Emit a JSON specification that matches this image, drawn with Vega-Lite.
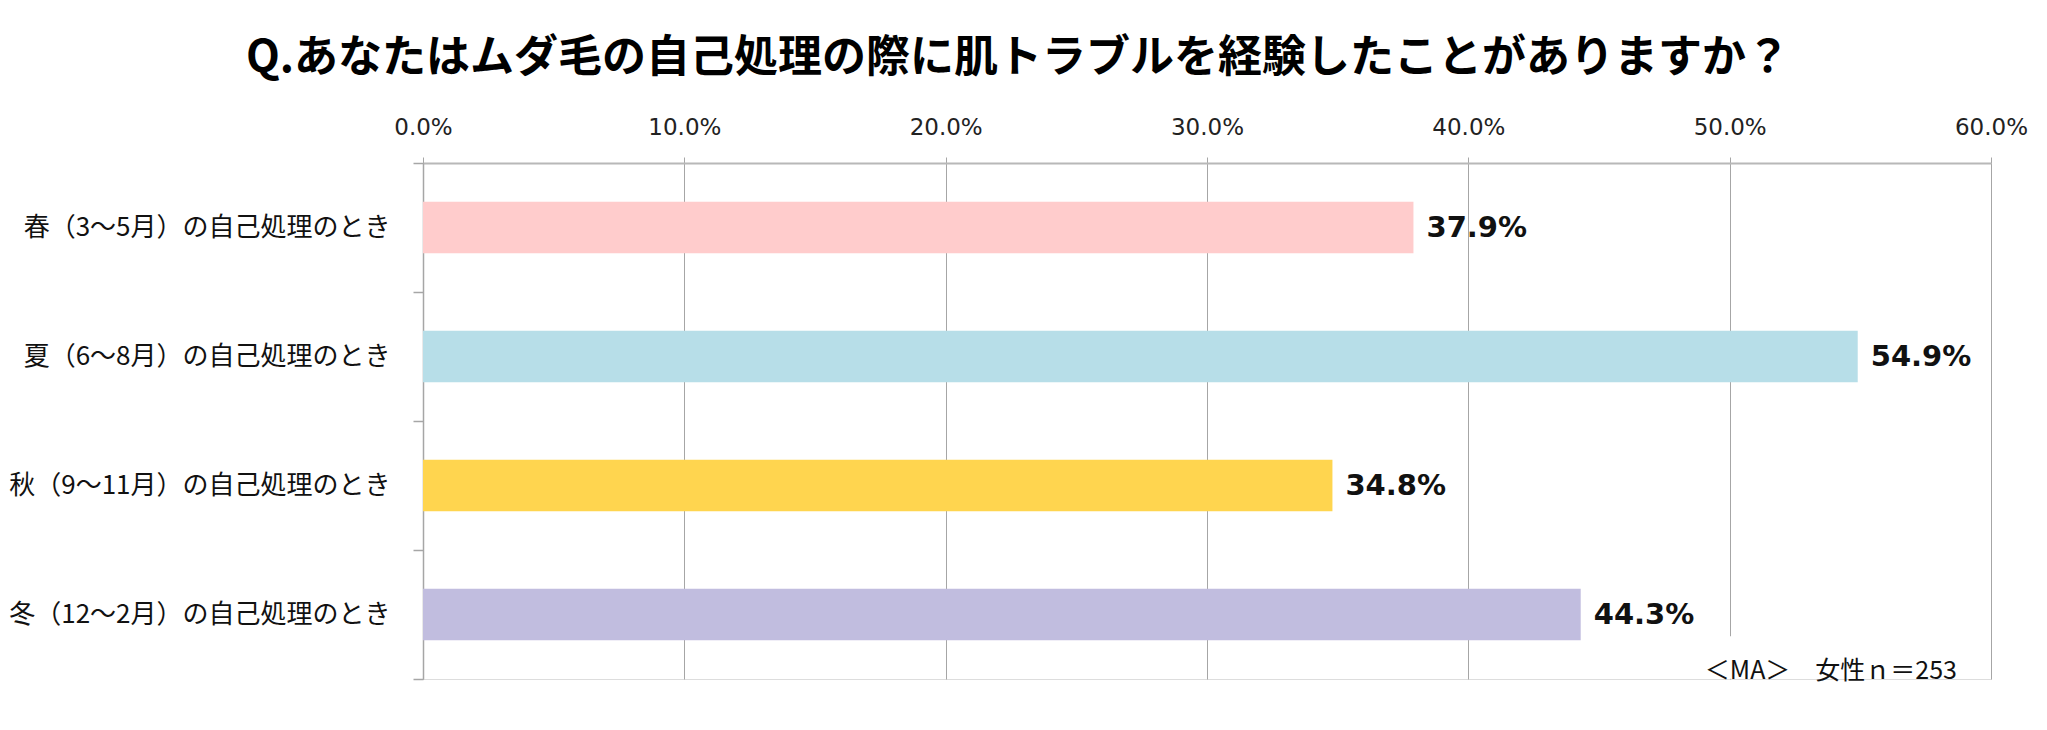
{
  "$schema": "https://vega.github.io/schema/vega-lite/v6.json",
  "width": 1568,
  "height": 516,
  "autosize": {"type": "none"},
  "padding": {"left": 423, "top": 163, "right": 56, "bottom": 51},
  "background": "white",
  "title": {
    "text": "Q.あなたはムダ毛の自己処理の際に肌トラブルを経験したことがありますか？",
    "font": "Noto Sans CJK JP",
    "fontSize": 44,
    "fontWeight": "bold",
    "color": "#000000",
    "anchor": "middle",
    "dx": -189,
    "offset": 35
  },
  "datasets": {
    "bars": [
      {"category": "春（3～5月）の自己処理のとき", "order": 1, "value": 0.379},
      {"category": "夏（6～8月）の自己処理のとき", "order": 2, "value": 0.549},
      {"category": "秋（9～11月）の自己処理のとき", "order": 3, "value": 0.348},
      {"category": "冬（12～2月）の自己処理のとき", "order": 4, "value": 0.443}
    ],
    "note": [
      {"note": "＜MA＞　女性ｎ＝253"}
    ]
  },
  "layer": [
    {
      "data": {"name": "bars"},
      "mark": {"type": "bar", "height": {"band": 0.4}},
      "encoding": {
        "y": {
          "field": "category",
          "type": "nominal",
          "scale": {
            "domain": ["春（3～5月）の自己処理のとき", "夏（6～8月）の自己処理のとき", "秋（9～11月）の自己処理のとき", "冬（12～2月）の自己処理のとき"],
            "paddingInner": 0,
            "paddingOuter": 0
          },
          "axis": {
            "title": null,
            "orient": "left",
            "tickBand": "extent",
            "ticks": true,
            "tickSize": 10,
            "tickColor": "#A6A6A6",
            "tickWidth": 1.5,
            "domain": true,
            "domainColor": "#A6A6A6",
            "domainWidth": 1.5,
            "grid": false,
            "labelFont": "Noto Sans CJK JP",
            "labelFontSize": 26,
            "labelColor": "#111111",
            "labelPadding": 23,
            "labelLimit": 600
          }
        },
        "x": {
          "field": "value",
          "type": "quantitative",
          "scale": {"domain": [0, 0.6], "nice": false},
          "axis": {
            "title": null,
            "orient": "top",
            "values": [0, 0.1, 0.2, 0.3, 0.4, 0.5, 0.6],
            "format": ".1%",
            "labelFlush": false,
            "labelOverlap": false,
            "labelFont": "DejaVu Sans",
            "labelFontSize": 23,
            "labelColor": "#222222",
            "labelPadding": 18,
            "tickSize": 6,
            "tickColor": "#A6A6A6",
            "tickWidth": 1,
            "domainColor": "#B8B8B8",
            "domainWidth": 2,
            "grid": true,
            "gridColor": "#A6A6A6",
            "gridWidth": 1
          }
        },
        "color": {
          "field": "category",
          "type": "nominal",
          "scale": {
            "domain": ["春（3～5月）の自己処理のとき", "夏（6～8月）の自己処理のとき", "秋（9～11月）の自己処理のとき", "冬（12～2月）の自己処理のとき"],
            "range": ["#FFCCCC", "#B7DEE8", "#FFD54F", "#C1BDDF"]
          },
          "legend": null
        }
      }
    },
    {
      "data": {"name": "bars"},
      "mark": {"type": "text", "align": "left", "baseline": "middle", "dx": 13, "font": "DejaVu Sans", "fontWeight": "bold", "fontSize": 29, "color": "#111111"},
      "encoding": {
        "y": {"field": "category", "type": "nominal"},
        "x": {"field": "value", "type": "quantitative"},
        "text": {"field": "value", "type": "quantitative", "format": ".1%"}
      }
    },
    {
      "data": {"name": "note"},
      "mark": {"type": "bar", "color": "white", "height": {"band": 0.33}, "yOffset": 43},
      "encoding": {
        "y": {"datum": "冬（12～2月）の自己処理のとき", "type": "nominal"},
        "x": {"datum": 0.48, "type": "quantitative"},
        "x2": {"datum": 0.59}
      }
    },
    {
      "data": {"name": "note"},
      "mark": {"type": "text", "align": "right", "baseline": "middle", "dx": -34, "dy": 56, "font": "Noto Sans CJK JP", "fontSize": 25, "color": "#111111"},
      "encoding": {
        "y": {"datum": "冬（12～2月）の自己処理のとき", "type": "nominal"},
        "x": {"datum": 0.6, "type": "quantitative"},
        "text": {"field": "note", "type": "nominal"}
      }
    }
  ]
}
